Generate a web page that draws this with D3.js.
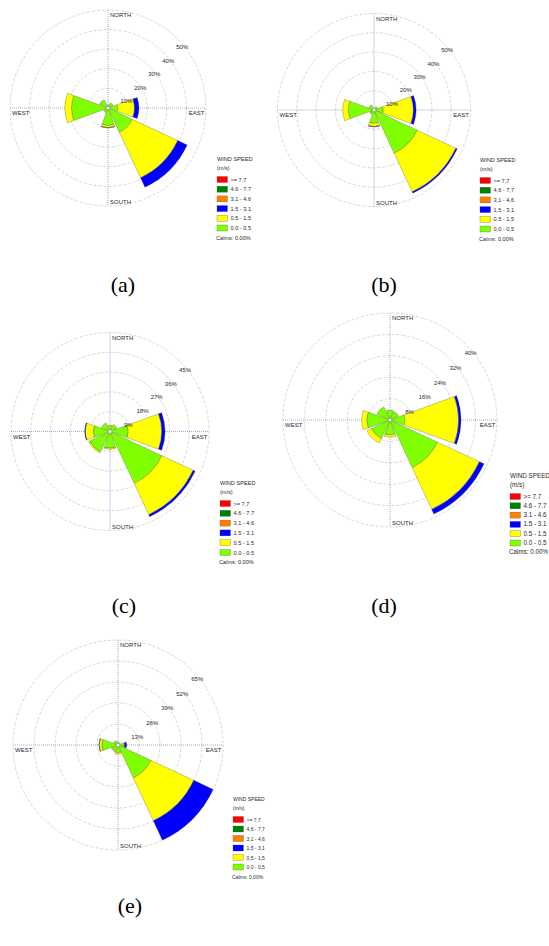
<!DOCTYPE html>
<html>
<head>
<meta charset="utf-8">
<script src="https://cdn.jsdelivr.net/npm/d3@7"></script>
<style>
  body { margin: 0; background: #fff; }
  text { font-family: "Liberation Sans", Arial, sans-serif; fill: #2a2a2a; }
  .caption { font-family: "Liberation Serif", "Times New Roman", serif; font-size: 22px; fill: #000; }
</style>
</head>
<body>
<script>
// 8 compass sectors, bearing in degrees
const directions = ["N", "NE", "E", "SE", "S", "SW", "W", "NW"];
const bearings = [0, 45, 90, 135, 180, 225, 270, 315];

// speed classes, low to high
const speedColors = ["#80ff00", "#ffff00", "#0000ff", "#ff8000", "#008000", "#ff0000"];
const labelsDot = ["0.0 - 0.5", "0.5 - 1.5", "1.5 - 3.1", "3.1 - 4.6", "4.6 - 7.7", ">= 7.7"];
const labelsComma = ["0,0 - 0,5", "0,5 - 1,5", "1,5 - 3,1", "3,1 - 4,6", "4,6 - 7,7", ">= 7,7"];

// frequency (%) per direction, columns = speed classes
const freqA = [
  [1.5, 0, 0, 0, 0, 0],
  [2.9, 0, 0, 0, 0, 0],
  [5.0, 8.5, 2.3, 0, 0, 0],
  [13.7, 25.6, 5.3, 0, 0, 0],
  [9.0, 1.0, 0.2, 0, 0, 0],
  [2.5, 0, 0, 0, 0, 0],
  [18.6, 3.4, 0, 0, 0, 0],
  [4.7, 0, 0, 0, 0, 0]
];
const freqB = [
  [1.0, 0, 0, 0, 0, 0],
  [2.0, 0, 0, 0, 0, 0],
  [4.8, 15.6, 1.4, 0, 0, 0],
  [24.7, 22.1, 0.8, 0, 0, 0],
  [6.9, 1.7, 0.2, 0, 0, 0],
  [2.5, 0, 0, 0, 0, 0],
  [13.3, 2.9, 0, 0, 0, 0],
  [3.0, 0, 0, 0, 0, 0]
];
const freqC = [
  [2.8, 0, 0, 0, 0, 0],
  [3.5, 0, 0, 0, 0, 0],
  [8.3, 15.2, 1.5, 0, 0, 0],
  [26.0, 15.7, 1.0, 0, 0, 0],
  [7.6, 0.5, 0, 0, 0, 0],
  [10.2, 0.5, 0, 0, 0, 0],
  [7.6, 3.6, 0.3, 0, 0, 0],
  [4.3, 0, 0, 0, 0, 0]
];
const freqD = [
  [3.7, 0, 0, 0, 0, 0],
  [3.5, 0, 0, 0, 0, 0],
  [5.6, 20.0, 0.9, 0, 0, 0],
  [19.6, 17.3, 1.9, 0, 0, 0],
  [5.6, 0.9, 0, 0, 0, 0],
  [7.6, 1.9, 0, 0, 0, 0],
  [8.7, 1.9, 0, 0, 0, 0],
  [5.4, 0, 0, 0, 0, 0]
];
const freqE = [
  [2.0, 0, 0, 0, 0, 0],
  [1.5, 0, 0, 0, 0, 0],
  [3.6, 0.5, 1.3, 0, 0, 0],
  [22.5, 29.3, 13.2, 0, 0, 0],
  [4.7, 1.0, 0, 0, 0, 0],
  [4.0, 0.6, 0, 0, 0, 0],
  [10.0, 1.6, 0.2, 0, 0, 0],
  [3.0, 0, 0, 0, 0, 0]
];

// ring ticks (%)
const ticksA = [10, 20, 30, 40, 50];
const ticksB = [10, 20, 30, 40, 50];
const ticksC = [9, 18, 27, 36, 45];
const ticksD = [8, 16, 24, 32, 40];
const ticksE = [13, 26, 39, 52, 65];

const captions = ["(a)", "(b)", "(c)", "(d)", "(e)"];
const calms = ["Calms: 0.00%", "Calms: 0,00%", "Calms: 0.00%", "Calms: 0.00%", "Calms: 0,00%"];

// layout
const charts = [
  { freq: freqA, ticks: ticksA, labels: labelsDot, cx: 108, cy: 108, R: 98, lx: 217, ly: 161, step: 9.7, lfs: 5.6, capX: 123, capY: 292 },
  { freq: freqB, ticks: ticksB, labels: labelsComma, cx: 374, cy: 110, R: 96.5, lx: 480, ly: 162, step: 9.7, lfs: 5.6, capX: 384, capY: 292 },
  { freq: freqC, ticks: ticksC, labels: labelsDot, cx: 110, cy: 431.5, R: 99, lx: 220, ly: 485, step: 9.8, lfs: 5.6, capX: 124, capY: 613 },
  { freq: freqD, ticks: ticksD, labels: labelsDot, cx: 390, cy: 420, R: 107, lx: 510, ly: 478, step: 9.3, lfs: 6.3, capX: 384, capY: 613 },
  { freq: freqE, ticks: ticksE, labels: labelsComma, cx: 118, cy: 745, R: 105, lx: 233, ly: 801, step: 9.5, lfs: 5.0, capX: 130, capY: 913 }
];

const svg = d3.select("body").append("svg")
  .attr("width", 549)
  .attr("height", 946);

svg.append("rect").attr("width", 549).attr("height", 946).attr("fill", "#fff");

const rad = (deg) => deg * Math.PI / 180;
const halfWidth = 20; // sector half width in degrees

charts.forEach((c, ci) => {
  const g = svg.append("g").attr("transform", `translate(${c.cx}, ${c.cy})`);
  const r = d3.scaleLinear().domain([0, d3.max(c.ticks)]).range([0, c.R]);

  // rings
  g.selectAll(".ring")
    .data(c.ticks)
    .join("circle")
    .attr("class", "ring")
    .attr("r", (d) => r(d))
    .attr("fill", "none")
    .attr("stroke", "#9a9a9a")
    .attr("stroke-width", 0.5)
    .attr("stroke-dasharray", "2,1.2,0.6,1.2");

  // axes
  g.append("line")
    .attr("x1", -c.R).attr("x2", c.R).attr("y1", 0).attr("y2", 0)
    .attr("stroke", "#6f6fc8").attr("stroke-width", 0.6).attr("stroke-dasharray", "1,1");
  g.append("line")
    .attr("y1", -c.R).attr("y2", c.R).attr("x1", 0).attr("x2", 0)
    .attr("stroke", "#6f6fc8").attr("stroke-width", 0.6).attr("stroke-dasharray", "1,1");

  // petals, stacked by speed class
  const petals = [];
  c.freq.forEach((row, i) => {
    let acc = 0;
    row.forEach((v, k) => {
      if (v > 0) {
        petals.push({ dir: directions[i], bearing: bearings[i], k, r0: acc, r1: acc + v });
        acc += v;
      }
    });
  });

  const arc = d3.arc()
    .innerRadius((d) => r(d.r0))
    .outerRadius((d) => r(d.r1))
    .startAngle((d) => rad(d.bearing - halfWidth))
    .endAngle((d) => rad(d.bearing + halfWidth));

  g.selectAll(".petal")
    .data(petals)
    .join("path")
    .attr("class", "petal")
    .attr("d", arc)
    .attr("fill", (d) => speedColors[d.k])
    .attr("stroke", "#444")
    .attr("stroke-width", 0.3);

  g.append("circle").attr("r", 1.8).attr("fill", "#fff").attr("stroke", "#555").attr("stroke-width", 0.3);

  // compass labels
  const fs = 6;
  g.append("text").attr("x", 2).attr("y", -c.R + 7).attr("font-size", fs).text("NORTH");
  g.append("text").attr("x", 2).attr("y", c.R - 2).attr("font-size", fs).text("SOUTH");
  g.append("text").attr("x", -c.R + 2).attr("y", 7).attr("font-size", fs).text("WEST");
  g.append("text").attr("x", c.R - 1.5).attr("y", 7).attr("text-anchor", "end").attr("font-size", fs).text("EAST");

  // ring labels
  g.selectAll(".rlab")
    .data(c.ticks)
    .join("text")
    .attr("class", "rlab")
    .attr("x", (d) => 0.715 * r(d) + 4.2)
    .attr("y", (d) => -0.693 * r(d) + 9)
    .attr("text-anchor", "middle")
    .attr("font-size", fs)
    .text((d) => d + "%");

  // legend
  const lg = svg.append("g").attr("transform", `translate(${c.lx}, ${c.ly})`);
  lg.append("text").attr("x", 0).attr("y", 0).attr("font-size", c.lfs).text("WIND SPEED");
  lg.append("text").attr("x", 0).attr("y", 8.5).attr("font-size", c.lfs).text("(m/s)");
  const order = d3.range(speedColors.length).reverse();
  lg.selectAll(".sw")
    .data(order)
    .join("rect")
    .attr("class", "sw")
    .attr("x", 0)
    .attr("y", (d, j) => 15.5 + j * c.step)
    .attr("width", 10.5)
    .attr("height", 6)
    .attr("fill", (d) => speedColors[d])
    .attr("stroke", "#555")
    .attr("stroke-width", 0.3);
  lg.selectAll(".swl")
    .data(order)
    .join("text")
    .attr("class", "swl")
    .attr("x", 13.5)
    .attr("y", (d, j) => 20.5 + j * c.step)
    .attr("font-size", c.lfs)
    .text((d) => c.labels[d]);
  lg.append("text")
    .attr("x", -1)
    .attr("y", 20.5 + 6 * c.step)
    .attr("font-size", c.lfs)
    .text(calms[ci]);

  svg.append("text")
    .attr("class", "caption")
    .attr("x", c.capX)
    .attr("y", c.capY)
    .attr("text-anchor", "middle")
    .text(captions[ci]);
});
</script>
</body>
</html>
